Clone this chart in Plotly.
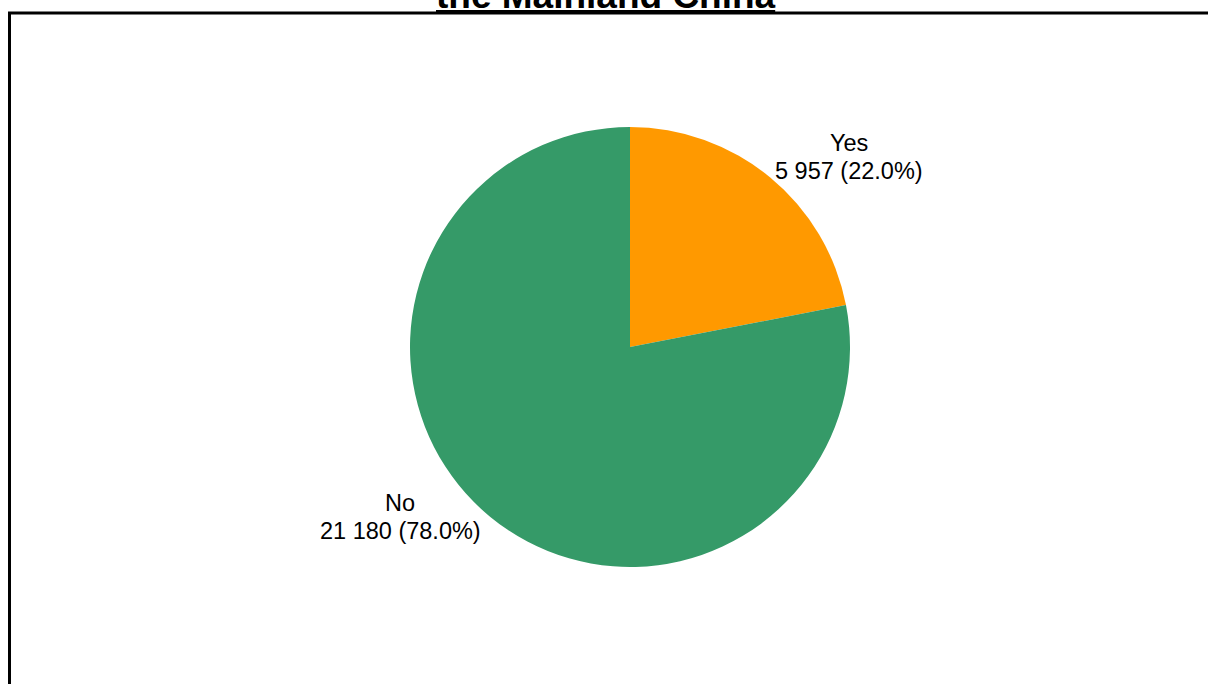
import plotly.graph_objects as go

# Survey answers
categories = ["Yes", "No"]
counts = [5957, 21180]
colors = ["#FF9900", "#359A68"]
title_text = "the Mainland China"

W, H = 1208, 684
cx, cy, r = 630, 347, 220          # pie centre and radius, px
FONT = "Liberation Sans, Arial"
LABEL_SIZE = 23.5
LINE_GAP = 27.6                     # distance between the two label lines, px

# Centre of each two-line label block, px from the top-left corner
LABEL_XY = {"Yes": (848.5, 157.2), "No": (400.0, 517.2)}

total = sum(counts)

fig = go.Figure(
    go.Pie(
        labels=categories,
        values=counts,
        sort=False,
        direction="clockwise",
        rotation=0,
        marker=dict(colors=colors, line=dict(width=0)),
        textinfo="none",
        showlegend=False,
        hoverinfo="label+value+percent",
        domain=dict(
            x=[(cx - r) / W, (cx + r) / W],
            y=[1 - (cy + r) / H, 1 - (cy - r) / H],
        ),
    )
)

# Slice labels: name on the first line, count and share on the second
for name, value in zip(categories, counts):
    lx, ly = LABEL_XY[name]
    value_line = f"{value:,}".replace(",", " ") + f" ({value / total:.1%})"
    for text, dy in ((name, -LINE_GAP / 2), (value_line, LINE_GAP / 2)):
        fig.add_annotation(
            text=text,
            xref="paper", yref="paper",
            x=lx / W, y=1 - (ly + dy) / H,
            xanchor="center", yanchor="middle",
            showarrow=False,
            font=dict(family=FONT, size=LABEL_SIZE, color="#000000"),
        )

# Frame around the plotting area
fig.add_shape(
    type="rect", xref="paper", yref="paper",
    x0=9.5 / W, x1=1.05, y0=-0.1, y1=1 - 13 / H,
    line=dict(color="#000000", width=3),
    fillcolor="rgba(0,0,0,0)",
)

# Title (second line of a two-line heading)
fig.add_annotation(
    text="<b><u>" + title_text + "</u></b>",
    xref="paper", yref="paper", x=0.5, y=1,
    xanchor="center", yanchor="bottom", yshift=-18, xshift=2,
    showarrow=False,
    font=dict(family=FONT, size=37, color="#000000"),
)

fig.update_layout(
    width=W, height=H,
    margin=dict(l=0, r=0, t=0, b=0),
    paper_bgcolor="#FFFFFF",
    plot_bgcolor="#FFFFFF",
)

fig.write_html("out.html")
